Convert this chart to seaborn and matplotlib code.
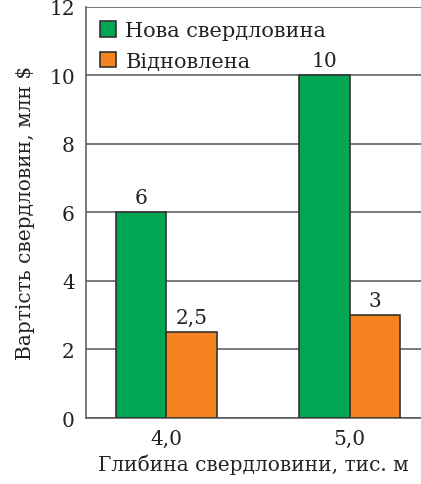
import pandas as pd
import matplotlib.pyplot as plt
import seaborn as sns

# Well cost data
depths = ['4,0', '5,0']
series = ['Нова свердловина', 'Відновлена']
new_well = [6, 10]
restored = [2.5, 3]
bar_labels = {'Нова свердловина': ['6', '10'], 'Відновлена': ['2,5', '3']}

df = pd.DataFrame({
    'depth': depths * 2,
    'type': [series[0]] * 2 + [series[1]] * 2,
    'cost': new_well + restored,
})

sns.set_style('white')
plt.rcParams['font.family'] = ['DejaVu Serif']
fs = 14.5

fig = plt.figure(figsize=(4.21, 4.85), dpi=100)
ax = fig.add_axes([0.204, 0.136, 0.796, 0.848])

sns.barplot(data=df, x='depth', y='cost', hue='type', ax=ax,
            palette=['#00a651', '#f58220'], width=0.55,
            edgecolor='#333333', linewidth=1.2, saturation=1, zorder=3)

for cont, name in zip(ax.containers, series):
    ax.bar_label(cont, labels=bar_labels[name], padding=4, fontsize=fs, color='#222222')

ax.set_ylim(0, 12)
ax.set_yticks(range(0, 13, 2))
ax.set_xlim(-0.44, 1.39)
ax.yaxis.grid(True, color='#555555', linewidth=1.1, zorder=0)
ax.set_axisbelow(True)
sns.despine(ax=ax, right=True, top=True)
for s in ['left', 'bottom']:
    ax.spines[s].set_color('#555555')
    ax.spines[s].set_linewidth(1.1)
ax.tick_params(axis='both', length=0, labelsize=fs, colors='#222222', pad=8)
ax.set_xlabel('Глибина свердловини, тис. м', fontsize=fs, color='#222222', labelpad=4)
ax.set_ylabel('Вартість свердловин, млн $', fontsize=fs, color='#222222', labelpad=10)

ax.legend(loc='upper left', frameon=False, fontsize=fs + 0.5, handlelength=0.75, handleheight=0.75,
          handletextpad=0.45, labelspacing=0.55, borderaxespad=0.3, labelcolor='#222222')

plt.savefig('out.png', dpi=100)
